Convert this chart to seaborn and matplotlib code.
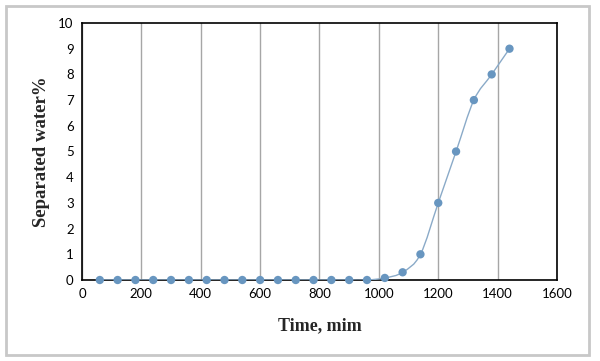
import numpy as np
import pandas as pd
import matplotlib
matplotlib.use("Agg")
import matplotlib.pyplot as plt
from matplotlib.path import Path
from matplotlib.patches import PathPatch, Rectangle
import seaborn as sns

time_min = [60, 120, 180, 240, 300, 360, 420, 480, 540, 600, 660, 720,
            780, 840, 900, 960, 1020, 1080, 1140, 1200, 1260, 1320, 1380, 1440]
separated_water = [0, 0, 0, 0, 0, 0, 0, 0, 0, 0, 0, 0,
                   0, 0, 0, 0, 0.08, 0.3, 1.0, 3.0, 5.0, 7.0, 8.0, 9.0]
x_ticks = [0, 200, 400, 600, 800, 1000, 1200, 1400, 1600]
y_ticks = list(range(0, 11))

df = pd.DataFrame({"time": time_min, "water": separated_water})

sns.set_theme(style="white")
plt.rcParams["font.family"] = ["Lato", "DejaVu Sans"]

fig = plt.figure(figsize=(6.0, 3.61), dpi=100)
ax = fig.add_axes([82 / 600, 1 - 280 / 361, (557 - 82) / 600, (280 - 23) / 361])

# outer light-grey frame
fig.patches.append(Rectangle((6 / 600, 1 - 355 / 361), (589 - 6) / 600, (355 - 6) / 361,
                             transform=fig.transFigure, fill=False,
                             edgecolor="#C8C8C8", linewidth=2.0, zorder=0))

# smooth line (Catmull-Rom as cubic Bezier, Excel-style smoothing)
xs = np.array(time_min, dtype=float)
ys = np.array(separated_water, dtype=float)
verts = [(xs[0], ys[0])]
codes = [Path.MOVETO]
n = len(xs)
for i in range(n - 1):
    p0 = (xs[i - 1], ys[i - 1]) if i > 0 else (xs[i], ys[i])
    p1 = (xs[i], ys[i])
    p2 = (xs[i + 1], ys[i + 1])
    p3 = (xs[i + 2], ys[i + 2]) if i + 2 < n else (xs[i + 1], ys[i + 1])
    t = 1 / 6
    c1 = (p1[0] + (p2[0] - p0[0]) * t, p1[1] + (p2[1] - p0[1]) * t)
    c2 = (p2[0] - (p3[0] - p1[0]) * t, p2[1] - (p3[1] - p1[1]) * t)
    verts += [c1, c2, p2]
    codes += [Path.CURVE4] * 3
ax.add_patch(PathPatch(Path(verts, codes), fill=False, edgecolor="#8AAAC8",
                       linewidth=1.0, zorder=3))

sns.scatterplot(data=df, x="time", y="water", ax=ax, color="#6896C0",
                s=36, edgecolor="none", zorder=4, clip_on=False)

ax.set_xlim(0, 1600)
ax.set_ylim(0, 10)
ax.set_xticks(x_ticks)
ax.set_yticks(y_ticks)
ax.tick_params(axis="both", labelsize=9.5, colors="#000000", length=0, pad=6)
ax.xaxis.grid(True, color="#A6A6A6", linewidth=1.0)
ax.yaxis.grid(False)
ax.set_axisbelow(True)
for s in ax.spines.values():
    s.set_color("#000000")
    s.set_linewidth(1.2)

ax.set_xlabel("Time, mim", fontsize=13, fontweight="bold",
              family=["Liberation Serif"], labelpad=12)
ax.set_ylabel("Separated water%", fontsize=13.5, fontweight="bold",
              family=["Liberation Serif"], labelpad=6)

fig.savefig("out.png", dpi=100)
